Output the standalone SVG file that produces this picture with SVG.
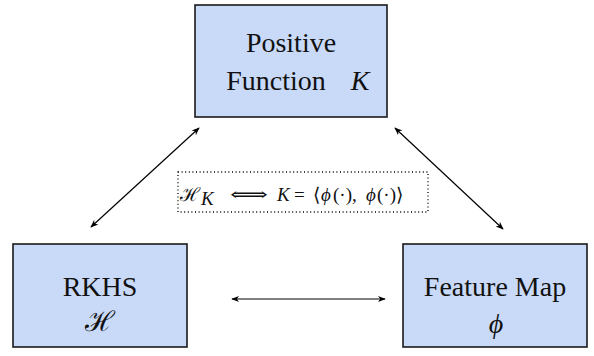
<svg xmlns="http://www.w3.org/2000/svg" width="594" height="356" viewBox="0 0 594 356">
<defs>
<style>
.box{fill:#c9daf8;stroke:#1a1a1a;stroke-width:1.6}
.lbl{font-family:"Liberation Serif","DejaVu Serif",serif;font-size:28px;fill:#111;text-anchor:middle}
.mi{font-style:italic}
.cal{font-family:"DejaVu Serif",serif}
.eq{font-family:"Liberation Serif","DejaVu Serif",serif;font-size:19px;fill:#111}
.conn{stroke:#000;stroke-width:1.2;fill:none;marker-start:url(#ah);marker-end:url(#ah)}
.dot{fill:none;stroke:#000;stroke-width:1.3;stroke-dasharray:1 2.6}
</style>
<marker id="ah" viewBox="0 0 10 10" refX="9" refY="5" markerWidth="8" markerHeight="8" markerUnits="userSpaceOnUse" orient="auto-start-reverse">
<path d="M0,1 L10,5 L0,9 L3,5 Z" fill="#000"/>
</marker>
</defs>
<g id="connectors">
<line class="conn" x1="91" y1="227" x2="199" y2="128"/>
<line class="conn" x1="395" y1="128" x2="503" y2="229"/>
<line class="conn" x1="232" y1="299" x2="385" y2="299"/>
</g>
<g id="positive-function">
<rect class="box" x="195" y="5" width="192" height="112"/>
<text class="lbl" x="291" y="52">Positive</text>
<text class="lbl" x="276" y="90">Function</text>
<text class="lbl mi" x="360" y="90" font-size="40">K</text>
</g>
<g id="rkhs">
<rect class="box" x="13" y="244" width="174" height="103"/>
<text class="lbl" x="100" y="296">RKHS</text>
<text class="lbl cal" x="100" y="331" font-size="34">ℋ</text>
</g>
<g id="feature-map">
<rect class="box" x="403" y="244" width="184" height="103"/>
<text class="lbl" x="495" y="296">Feature Map</text>
<text class="lbl mi" x="496" y="333" font-size="40">ϕ</text>
</g>
<g id="relation">
<rect class="dot" x="178" y="172" width="250" height="40"/>
<text class="eq cal" x="180" y="201" font-size="21">ℋ</text>
<text class="eq mi" x="201" y="205" font-size="13">K</text>
<text class="eq" x="230" y="201" font-size="20" textLength="38" lengthAdjust="spacingAndGlyphs">⟺</text>
<text class="eq mi" x="277" y="201">K</text>
<text class="eq" x="294" y="201">=</text>
<text class="eq" x="313" y="201">⟨</text>
<text class="eq mi" x="321" y="201">ϕ</text>
<text class="eq" x="333" y="201">(·),</text>
<text class="eq mi" x="366" y="201">ϕ</text>
<text class="eq" x="377" y="201">(·)⟩</text>
</g>
</svg>
